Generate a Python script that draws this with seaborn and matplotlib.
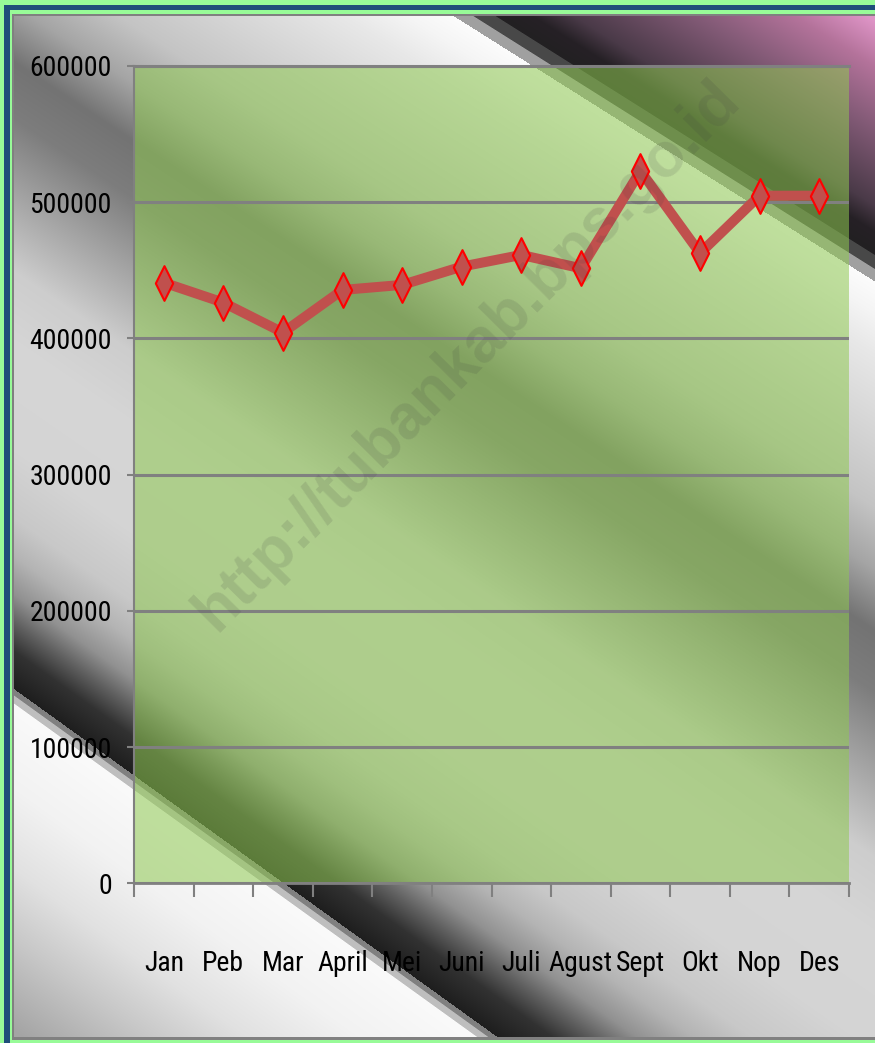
import numpy as np
import pandas as pd
import seaborn as sns
import matplotlib.pyplot as plt
from matplotlib import font_manager as fm
from matplotlib.path import Path
from matplotlib.patches import Rectangle

# -----------------------------
# Data
months = ["Jan", "Peb", "Mar", "April", "Mei", "Juni", "Juli", "Agust", "Sept", "Okt", "Nop", "Des"]
values = [441000, 426300, 404300, 435600, 439300, 452700, 461300, 451500, 523000, 462600, 504800, 504800]
y_ticks = [0, 100000, 200000, 300000, 400000, 500000, 600000]
watermark = "http://tubankab.bps.go.id"

# -----------------------------
# Style / fonts: the chart uses a narrow face, pick the narrowest one installed
sns.set_style("white")
plt.rcParams["font.family"] = ["DejaVu Sans"]

installed = [(f.name, f.stretch) for f in fm.fontManager.ttflist]
names = {n for n, s in installed}
if "Liberation Sans Narrow" in names:
    label_family, label_stretch, label_size = "Liberation Sans Narrow", "normal", 21
elif "Roboto Condensed" in names:
    label_family, label_stretch, label_size = "Roboto Condensed", "normal", 20
elif any(n == "DejaVu Sans" and str(s) in ("condensed", "semi-condensed", "75", "87") for n, s in installed):
    label_family, label_stretch, label_size = "DejaVu Sans", "condensed", 16
else:
    label_family, label_stretch, label_size = "DejaVu Sans", "normal", 15

W, H = 875, 1043
GRAY = "#808080"

# -----------------------------
# Background gradient (diagonal bands of the slide)
xs = np.arange(14, W) + 0.5
ys = np.arange(17, 1038) + 0.5
X, Y = np.meshgrid(xs, ys)
y1 = 40 + 0.63 * (X - 490)
y2 = 690 + 0.72 * (X - 14)
u = (Y - y1) / (y2 - y1)

u_stops = [0.0, 0.03, 0.07, 0.17, 0.22, 0.28, 0.34, 0.40, 0.48, 0.56, 0.64, 0.75, 0.82, 0.86, 0.90, 0.93, 0.96, 1.0]
g_stops = [252, 245, 232, 208, 196, 165, 115, 125, 165, 205, 214, 212, 200, 180, 145, 96, 50, 30]
mid = np.interp(u, u_stops, g_stops)
img = np.stack([mid, mid, mid], axis=-1)

# above first sharp edge: dark band then purple / pink
d_up = np.clip(y1 - Y, 0, None)
up_d = [0, 12, 13, 26, 27, 50, 76, 152, 215, 260, 320]
up_rgb = [(160, 160, 160), (160, 160, 160), (72, 72, 72), (72, 72, 72), (34, 32, 34), (38, 33, 38),
          (74, 58, 72), (130, 90, 118), (180, 115, 155), (222, 148, 198), (232, 162, 212)]
mask_up = Y < y1
for c in range(3):
    ch = np.interp(d_up, up_d, [p[c] for p in up_rgb])
    img[..., c] = np.where(mask_up, ch, img[..., c])

# below second sharp edge: white fading to gray
d_dn = np.clip(Y - y2, 0, None)
dn_d = [0, 6, 7, 14, 15, 100, 180, 250, 340, 500]
dn_g = [128, 128, 190, 190, 250, 242, 225, 200, 165, 150]
mask_dn = Y > y2
img = np.where(mask_dn[..., None], np.interp(d_dn, dn_d, dn_g)[..., None], img)
img = np.clip(img / 255.0, 0, 1)

fig = plt.figure(figsize=(W / 100, H / 100), dpi=100, facecolor="#98FB98")
bg = fig.add_axes([0, 0, 1, 1], zorder=-1)
bg.add_patch(Rectangle((4, 5), 900, 1100, fc="#1F4E79", lw=0))
bg.add_patch(Rectangle((10, 10), 900, 1100, fc="#98FB98", lw=0))
bg.add_patch(Rectangle((12, 14), 900, 1026, fc=GRAY, lw=0))
bg.imshow(img, extent=(14, W, 1037.5, 17), interpolation="bilinear", aspect="auto", zorder=2)
bg.set_xlim(0, W)
bg.set_ylim(H, 0)
bg.axis("off")

# -----------------------------
# Plot area
ax = fig.add_axes([134 / W, 1 - 883.3 / H, 715 / W, 817.3 / H])
ax.set_facecolor((143 / 255, 201 / 255, 81 / 255, 0.55))

diamond = Path([(0, 1), (0.5, 0), (0, -1), (-0.5, 0), (0, 1)],
               [Path.MOVETO, Path.LINETO, Path.LINETO, Path.LINETO, Path.CLOSEPOLY])

df = pd.DataFrame({"Bulan": months, "Nilai": values})
sns.lineplot(data=df, x="Bulan", y="Nilai", ax=ax, sort=False, color="#C0504D", lw=7.2,
             marker=diamond, markersize=25, markerfacecolor="#C0504D",
             markeredgecolor="#FF0000", markeredgewidth=1.5, zorder=5)

ax.set_xlim(-0.5, len(months) - 0.5)
ax.set_ylim(0, 600000)
ax.set_yticks(y_ticks)
ax.set_yticklabels([str(v) for v in y_ticks])
ax.set_xticks(range(len(months)))
ax.set_xticklabels(months)
ax.set_xticks(np.arange(-0.5, len(months), 1), minor=True)
ax.yaxis.grid(True, color=GRAY, lw=2.2)
ax.xaxis.grid(False)
ax.set_xlabel("")
ax.set_ylabel("")

ax.tick_params(axis="x", which="major", bottom=True, length=0, pad=48, labelcolor="black")
ax.tick_params(axis="x", which="minor", bottom=True, length=10, width=1.5, color=GRAY, direction="out")
ax.tick_params(axis="y", which="major", left=True, length=5, width=1.5, color=GRAY, direction="out",
               pad=11, labelcolor="black")
for lab in ax.get_xticklabels() + ax.get_yticklabels():
    lab.set_fontfamily(label_family)
    lab.set_fontstretch(label_stretch)
    lab.set_fontsize(label_size)

for side, lw in [("left", 1.5), ("bottom", 2.0), ("top", 2.2)]:
    ax.spines[side].set_color(GRAY)
    ax.spines[side].set_linewidth(lw)
ax.spines["right"].set_visible(False)

# watermark
fig.text(467 / W, 1 - 356 / H, watermark, rotation=45.3, rotation_mode="anchor",
         ha="center", va="center", fontsize=45, fontweight="bold",
         family=["Liberation Sans", "DejaVu Sans"], color="#404040", alpha=0.14, zorder=10)

plt.savefig("out.png", dpi=100, facecolor=fig.get_facecolor())
